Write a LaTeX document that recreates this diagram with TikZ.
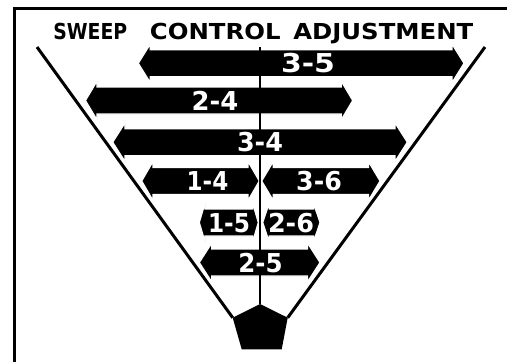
\documentclass[tikz,border=0pt]{standalone}
\usepackage{fontspec}
\setmainfont{DejaVu Sans}
\begin{document}
\begin{tikzpicture}[x=1pt,y=-1pt,
  frameline/.style={line width=3pt,black},
  vline/.style={line width=3pt,black},
  axisline/.style={line width=2.5pt,black},
  arrowbody/.style={fill=black,draw=white,line width=1.2pt,line join=miter},
  lbl/.style={text=white,font=\bfseries,inner sep=0pt,anchor=base},
  title/.style={text=black,font=\bfseries,inner sep=0pt,anchor=base}]
\useasboundingbox (0,0) rectangle (507,362);

% text at a given size, stretched horizontally to a given width
\newcommand\fitw[3]{%
  \begingroup\fontsize{#2}{#2}\selectfont
  \setbox0=\hbox{#3}%
  \pgfmathsetmacro\fitsx{#1/\the\wd0}%
  \scalebox{\fitsx}[1]{\box0}\endgroup}

% open frame: left and top edges
\coordinate (fTL) at (14.5,8.5);
\coordinate (fBL) at (14.5,362);
\coordinate (fTR) at (507,8.5);
\draw[frameline] (fBL) -- (fTL) -- (fTR);

% title, one node per word
\node[title] (t1) at (90.3,39) {\fitw{74}{22}{SWEEP}};
\node[title] (t2) at (215.3,39) {\fitw{130.7}{22}{CONTROL}};
\node[title] (t3) at (383.3,39) {\fitw{180}{22}{ADJUSTMENT}};

% pentagon base and funnel sides
\coordinate (pT) at (260,304);
\coordinate (pR) at (287.7,317.7);
\coordinate (pBR) at (281.7,349.3);
\coordinate (pBL) at (241.7,349.3);
\coordinate (pL) at (232.7,317.7);
\fill[black] (pT) -- (pR) -- (pBR) -- (pBL) -- (pL) -- cycle;
\coordinate (vL) at (37,47);
\coordinate (vR) at (485,47);
\draw[vline] (vL) -- (pL);
\draw[vline] (vR) -- (pR);

% double-headed block arrow: left tip x, right tip x, centre y, head length
\newcommand\dblarrow[4]{%
  \filldraw[arrowbody] (#1,#3) -- (#1+#4,#3-19.3) -- (#1+#4,#3-13.5)
    -- (#2-#4,#3-13.5) -- (#2-#4,#3-19.3) -- (#2,#3)
    -- (#2-#4,#3+19.3) -- (#2-#4,#3+13.5) -- (#1+#4,#3+13.5)
    -- (#1+#4,#3+19.3) -- cycle;}

\dblarrow{138.3}{464}{63.3}{12}
\dblarrow{85.5}{352.7}{100.5}{11.5}
\dblarrow{112.7}{407.3}{142.2}{12.3}
\dblarrow{141.7}{259.3}{181}{11.2}
\dblarrow{261.7}{380}{181}{11.5}
\dblarrow{199.3}{258.3}{222.5}{5.7}
\dblarrow{262.7}{320}{222.5}{6.5}
\dblarrow{199.3}{320}{262.5}{12.4}

% centre axis
\coordinate (aTop) at (260,47);
\draw[axisline] (aTop) -- (pT);

% labels
\node[lbl] (l35) at (308,72.8) {\fitw{54}{26}{3-5}};
\node[lbl] (l24) at (215,110) {\fitw{46.7}{26}{2-4}};
\node[lbl] (l34) at (260,151.7) {\fitw{46}{26}{3-4}};
\node[lbl] (l14) at (207.5,190.5) {\fitw{41.7}{26}{1-4}};
\node[lbl] (l36) at (319,190.5) {\fitw{45.7}{26}{3-6}};
\node[lbl] (l15) at (229,232) {\fitw{42}{26}{1-5}};
\node[lbl] (l26) at (291,232) {\fitw{46}{26}{2-6}};
\node[lbl] (l25) at (260.5,272) {\fitw{44.3}{26}{2-5}};
\end{tikzpicture}
\end{document}
